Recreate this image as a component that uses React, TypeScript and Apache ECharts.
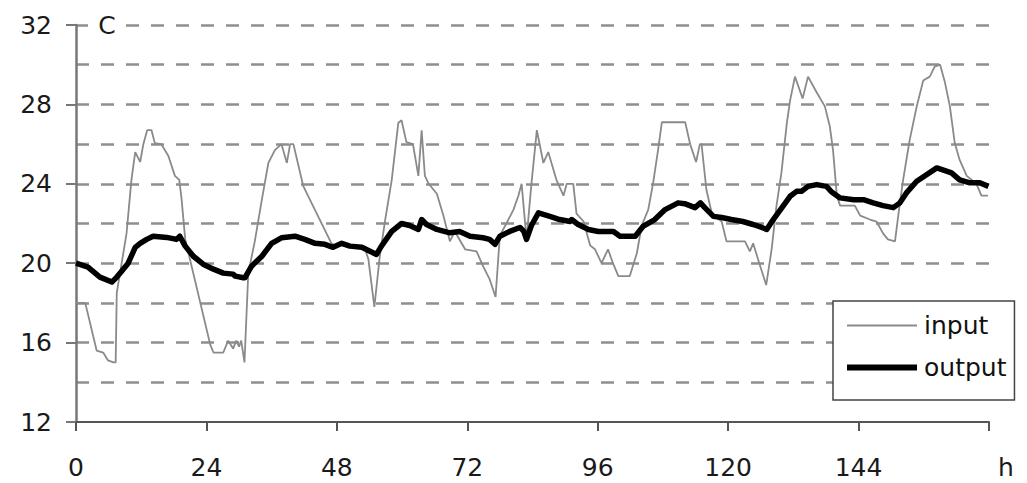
import React, { useEffect, useRef } from "react";
import * as echarts from "echarts";

// Hourly temperature readings (h, °C)
const inputHours = [
  0, 1.7, 3.8, 5.0, 5.9, 6.9, 7.3, 7.5, 8.1, 9.3, 10.2, 10.9, 11.8, 12.4, 13.1, 13.9, 14.5, 15.7, 17.0, 18.2,
  19.0, 19.4, 20.1, 24.7, 25.3, 27.1, 28.0, 28.9, 29.5, 30.0, 30.4, 31.0, 31.7, 32.9, 34.2, 35.4, 36.6, 37.8,
  38.8, 39.4, 40.0, 41.8, 43.4, 47.0, 47.6, 48.9, 50.5, 52.5, 53.2, 53.8, 54.9, 55.9, 56.9, 58.1, 59.3, 59.9,
  60.8, 62.0, 63.0, 63.6, 64.2, 64.9, 66.4, 67.6, 68.8, 69.7, 71.6, 73.7, 74.9, 76.1, 77.2, 78.0, 79.2, 80.5,
  81.4, 82.0, 82.9, 83.8, 84.8, 86.0, 86.9, 88.4, 89.7, 90.3, 91.5, 92.1, 93.4, 94.6, 95.5, 96.7, 97.9, 98.8,
  99.8, 101.9, 103.2, 104.1, 105.3, 106.2, 107.1, 107.8, 112.1, 113.0, 114.1, 114.8, 115.1, 116.0, 117.0,
  118.8, 119.7, 123.1, 124.0, 124.6, 125.5, 127.0, 128.0, 128.9, 129.8, 130.8, 131.4, 132.3, 133.7, 134.7,
  136.3, 137.8, 138.7, 139.3, 140.0, 140.6, 143.3, 144.3, 146.1, 147.3, 148.5, 149.4, 150.7, 151.3, 152.2,
  153.4, 154.7, 155.9, 157.1, 158.0, 159.0, 159.9, 160.8, 161.7, 162.6, 163.9, 165.7, 166.6, 167.8,
];
const inputTemps = [
  18.0, 18.0, 15.6, 15.5, 15.1, 15.0, 15.0, 18.5, 19.5, 21.5, 24.2, 25.6, 25.1, 26.0, 26.7, 26.7, 26.05, 26.0,
  25.4, 24.4, 24.2, 23.3, 21.2, 15.9, 15.5, 15.5, 16.1, 15.7, 16.1, 15.8, 16.1, 15.0, 19.5, 21.1, 23.2, 25.05,
  25.7, 26.0, 25.05, 26.0, 26.0, 23.9, 23.0, 21.0, 20.9, 21.0, 20.9, 20.8, 20.7, 20.2, 17.8, 20.35, 22.2, 24.2,
  27.06, 27.2, 26.1, 26.0, 24.4, 26.7, 24.4, 24.0, 23.5, 22.4, 21.1, 21.6, 20.7, 20.6, 19.85, 19.2, 18.3, 21.4,
  22.0, 22.7, 23.4, 24.0, 21.2, 24.0, 26.7, 25.05, 25.6, 24.2, 23.4, 24.0, 24.0, 22.5, 22.1, 20.9, 20.7, 20.0,
  20.7, 20.0, 19.35, 19.35, 20.5, 21.9, 22.7, 24.05, 25.7, 27.1, 27.1, 26.0, 25.1, 26.0, 26.0, 23.7, 22.5, 22.1,
  21.1, 21.1, 20.6, 21.0, 20.2, 18.9, 20.7, 22.9, 24.55, 27.06, 28.2, 29.4, 28.3, 29.4, 28.6, 27.9, 26.9, 25.7,
  23.4, 22.9, 22.9, 22.4, 22.2, 22.1, 21.5, 21.2, 21.1, 22.4, 24.2, 26.2, 27.9, 29.2, 29.4, 29.9, 30.0, 29.1,
  27.9, 26.05, 25.2, 24.4, 24.0, 23.4, 23.4,
];

const outputHours = [
  0, 2.2, 4.4, 6.6, 7.5, 8.4, 9.6, 10.9, 11.8, 13.0, 14.2, 16.7, 18.5, 19.1, 20.1, 21.6, 23.4, 25.3, 27.1, 28.9,
  29.3, 30.8, 31.1, 32.3, 34.2, 36.0, 37.8, 40.3, 42.1, 44.0, 45.8, 47.3, 48.9, 50.4, 52.6, 54.1, 55.3, 56.2,
  58.1, 59.9, 61.4, 63.0, 63.6, 64.5, 66.4, 68.8, 70.6, 72.5, 74.9, 76.1, 77.1, 78.0, 79.8, 81.7, 82.4, 82.9,
  83.8, 85.1, 87.2, 89.0, 90.9, 91.2, 92.4, 94.3, 96.1, 98.9, 100.1, 102.9, 104.4, 106.5, 108.4, 110.8, 112.0,
  113.9, 114.9, 115.7, 117.3, 118.8, 120.6, 122.7, 124.6, 126.2, 127.1, 128.3, 130.1, 131.4, 132.6, 133.5,
  134.7, 136.3, 138.1, 139.0, 140.6, 143.1, 144.9, 146.7, 148.5, 150.4, 151.6, 152.8, 154.7, 156.5, 158.4,
  159.5, 161.1, 162.6, 164.5, 166.3, 167.9,
];
const outputTemps = [
  20.0, 19.8, 19.3, 19.05, 19.3, 19.6, 20.0, 20.8, 21.0, 21.2, 21.36, 21.3, 21.2, 21.36, 20.86, 20.35, 19.95,
  19.7, 19.5, 19.45, 19.35, 19.27, 19.27, 19.85, 20.35, 21.0, 21.28, 21.36, 21.2, 21.0, 20.95, 20.8, 21.0,
  20.86, 20.8, 20.6, 20.44, 20.86, 21.6, 22.0, 21.9, 21.7, 22.2, 21.95, 21.7, 21.53, 21.6, 21.36, 21.28, 21.2,
  20.95, 21.36, 21.6, 21.8, 21.6, 21.2, 21.9, 22.54, 22.36, 22.2, 22.1, 22.2, 21.95, 21.7, 21.6, 21.6, 21.36,
  21.36, 21.87, 22.2, 22.7, 23.04, 23.0, 22.8, 23.04, 22.8, 22.36, 22.3, 22.2, 22.1, 21.95, 21.8, 21.7, 22.2,
  22.87, 23.37, 23.62, 23.62, 23.87, 23.96, 23.87, 23.6, 23.29, 23.2, 23.2, 23.04, 22.9, 22.8, 23.04, 23.54,
  24.13, 24.46, 24.8, 24.7, 24.55, 24.2, 24.05, 24.05, 23.87,
];

const seriesNames = ["input", "output"];
const xMin = 0;
const xMax = 168;
const xStep = 24;
const yMin = 12;
const yMax = 32;
const yStep = 4;

const FONT = "DejaVu Sans";
const INPUT_COLOR = "#8a8a8a";
const OUTPUT_COLOR = "#000000";

export default function App() {
  const ref = useRef<HTMLDivElement>(null);

  useEffect(() => {
    if (!ref.current) return;
    const chart = echarts.init(ref.current, undefined, { renderer: "svg" });

    const inputData = inputHours.map((h, i) => [h, inputTemps[i]]);
    const outputData = outputHours.map((h, i) => [h, outputTemps[i]]);

    const gridDash = { color: "#8f8f8f", width: 2.5, type: [13, 12] as number[] };

    chart.setOption({
      animation: false,
      backgroundColor: "#ffffff",
      grid: { left: 76, right: 38, top: 25, bottom: 61 },
      xAxis: {
        type: "value",
        min: xMin,
        max: xMax,
        interval: xStep,
        axisLine: { show: true, lineStyle: { color: "#555555", width: 2 } },
        axisTick: { show: true, length: 9, lineStyle: { color: "#555555", width: 2 } },
        axisLabel: {
          margin: 33,
          fontSize: 25,
          fontFamily: FONT,
          color: "#1a1a1a",
          formatter: (v: number) => (v === xMax ? "" : String(v)),
        },
        splitLine: { show: false },
      },
      yAxis: {
        type: "value",
        min: yMin,
        max: yMax,
        interval: yStep,
        axisLine: { show: true, lineStyle: { color: "#777777", width: 2.5 } },
        axisTick: { show: true, length: 10, lineStyle: { color: "#777777", width: 2 } },
        axisLabel: { margin: 24, fontSize: 25, fontFamily: FONT, color: "#1a1a1a" },
        splitLine: { show: true, showMinLine: false, lineStyle: gridDash },
        minorTick: { show: false, splitNumber: 2 },
        minorSplitLine: { show: true, lineStyle: gridDash },
      },
      legend: {
        data: [
          { name: seriesNames[0], icon: "path://M0,0H70V2H0Z" },
          { name: seriesNames[1], icon: "path://M0,0H70V6H0Z" },
        ],
        orient: "vertical",
        left: 833,
        top: 301,
        padding: [12, 8, 20, 14],
        itemWidth: 70,
        itemHeight: 25,
        itemGap: 17,
        symbolKeepAspect: true,
        backgroundColor: "#ffffff",
        borderColor: "#444444",
        borderWidth: 1.5,
        borderRadius: 0,
        textStyle: { fontSize: 25, fontFamily: FONT, color: "#111111", padding: [0, 0, 0, 2] },
      },
      series: [
        {
          name: seriesNames[0],
          type: "line",
          data: inputData,
          symbol: "none",
          showSymbol: false,
          lineStyle: { color: INPUT_COLOR, width: 1.8 },
          itemStyle: { color: INPUT_COLOR },
          z: 2,
        },
        {
          name: seriesNames[1],
          type: "line",
          data: outputData,
          symbol: "none",
          showSymbol: false,
          lineStyle: { color: OUTPUT_COLOR, width: 5.5, join: "round" },
          itemStyle: { color: OUTPUT_COLOR },
          z: 3,
        },
      ],
      graphic: [
        { type: "rect", shape: { x: 88, y: 12, width: 36, height: 26 }, style: { fill: "#ffffff" }, z: 1 },
        {
          type: "text",
          x: 107,
          y: 25,
          style: {
            text: "C",
            fontSize: 25,
            fontFamily: FONT,
            fill: "#1a1a1a",
            align: "center",
            verticalAlign: "middle",
          },
          z: 2,
        },
        {
          type: "text",
          x: 1006,
          y: 467,
          style: {
            text: "h",
            fontSize: 25,
            fontFamily: FONT,
            fill: "#1a1a1a",
            align: "center",
            verticalAlign: "middle",
          },
        },
      ],
    });

    return () => chart.dispose();
  }, []);

  return (
    <div
      ref={ref}
      style={{ position: "fixed", left: 0, top: 0, width: 1027, height: 483 }}
    />
  );
}
